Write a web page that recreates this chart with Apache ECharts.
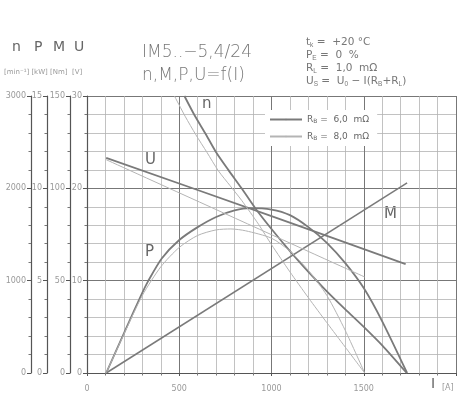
<!DOCTYPE html>
<html><head><meta charset="utf-8">
<script src="https://cdn.jsdelivr.net/npm/echarts@6/dist/echarts.min.js"></script>
<style>html,body{margin:0;padding:0;background:#fff}#c{width:465px;height:400px}</style>
</head><body><div id="c"></div>
<script>
// current I [A] vs value
const nDark  = [[528,3000],[586,2780],[640,2600],[697,2400],[766,2200],[838,2000],[912,1785],[1000,1560],[1100,1320],[1200,1095],[1300,885],[1400,690],[1500,500],[1600,300],[1733,0]];
const nLight = [[474,3000],[532,2780],[590,2580],[650,2390],[712,2190],[775,2030],[838,1870],[930,1610],[1000,1390],[1100,1095],[1200,815],[1300,545],[1400,280],[1505,0]];
const pDark  = [[104,0],[200,2.15],[300,4.35],[330,4.95],[405,6.2],[500,7.2],[600,7.9],[700,8.45],[800,8.8],[885,8.93],[1000,8.85],[1100,8.55],[1200,7.9],[1300,7.05],[1400,5.95],[1500,4.6],[1600,2.8],[1735,0]];
const pLight = [[104,0],[200,2.1],[300,4.2],[400,5.75],[500,6.8],[600,7.45],[700,7.75],[780,7.8],[860,7.7],[1000,7.3],[1100,6.6],[1200,5.55],[1300,4.2],[1400,2.3],[1505,0]];
const uDark  = [[104,23.3],[1000,17.0],[1727,11.8]];
const uLight = [[104,23.1],[1505,10.4]];
const mLine  = [[104,0],[1735,103]];
const xTickLabels = [0,500,1000,1500];
const legendNames = ['rb6','rb8'];
const legendTexts = {rb6:'R{s|B} =  6,0  mΩ', rb8:'R{s|B} =  8,0  mΩ'};

const DARK='#7a7a7a', LIGHT='#b4b4b4';
const FONT="'DejaVu Sans', sans-serif";
const chart = echarts.init(document.getElementById('c'));

function yAx(min,max,interval,offset,grid){
  return {
    type:'value', position:'left', min:min, max:max, interval:interval, offset:offset,
    axisLine:{show:true, lineStyle:{color:'#555', width:1.2}},
    axisTick:{show:true, length:4, lineStyle:{color:'#555'}},
    minorTick:{show:true, splitNumber:5, length:2.5, lineStyle:{color:'#777'}},
    axisLabel:{fontSize:8, color:'#999', margin:5, fontFamily:FONT, formatter:v=>String(v)},
    splitLine:{show:grid, lineStyle:{color:'#777', width:1}},
    minorSplitLine:{show:grid, lineStyle:{color:'#b2b2b2', width:0.8}}
  };
}

function series(name, data, yi, color, width){
  return {name:name, type:'line', data:data, yAxisIndex:yi, symbol:'none', smooth:0.25,
    lineStyle:{color:color, width:width}, itemStyle:{color:color}, z:3};
}

chart.setOption({
  animation:false,
  grid:{left:87, right:9, top:96, bottom:27, containLabel:false},
  xAxis:{type:'value', min:0, max:2000, interval:500,
    axisLine:{show:true, lineStyle:{color:'#555', width:1.2}},
    axisTick:{show:true, length:3, inside:false, lineStyle:{color:'#555'}},
    minorTick:{show:true, splitNumber:5, length:2.5, lineStyle:{color:'#777'}},
    axisLabel:{fontSize:8, color:'#999', margin:12, fontFamily:FONT,
      formatter:v=> xTickLabels.indexOf(v)>=0 ? String(v) : ''},
    splitLine:{show:true, lineStyle:{color:'#777', width:1}},
    minorSplitLine:{show:true, lineStyle:{color:'#b2b2b2', width:0.8}}
  },
  yAxis:[
    yAx(0,30,10,0,true),      // U [V]
    yAx(0,150,50,17,false),   // M [Nm]
    yAx(0,15,5,40,false),     // P [kW]
    yAx(0,3000,1000,56,false) // n [min-1]
  ],
  legend:{data:legendNames, orient:'vertical', left:265, top:110, itemWidth:32, itemHeight:2,
    itemGap:8, padding:[5,8,5,4], backgroundColor:'#fff',
    formatter:n=>legendTexts[n],
    textStyle:{fontSize:9, color:'#666', fontFamily:FONT, rich:{s:{fontSize:6, verticalAlign:'bottom', lineHeight:9, color:'#666'}}}},
  series:[
    series('rb6', nDark, 3, DARK, 1.8),
    series('rb6', pDark, 2, DARK, 1.8),
    series('rb6', uDark, 0, DARK, 1.8),
    series('rb6', mLine, 1, DARK, 1.5),
    series('rb8', nLight, 3, LIGHT, 1),
    series('rb8', pLight, 2, LIGHT, 1),
    series('rb8', uLight, 0, LIGHT, 1)
  ],
  graphic:[
    {type:'text', left:142, top:41, style:{text:'IM5..−5,4/24\nn,M,P,U=f(I)', fontSize:17, lineHeight:23, fill:'#777', fontFamily:FONT, fontWeight:300}},
    {type:'text', left:306, top:36, style:{text:'t{s|k} =  +20 °C\nP{s|E} =  0  %\nR{s|L} =  1,0  mΩ\nU{s|S} =  U{s|0} − I(R{s|B}+R{s|L})', fontSize:10.5, lineHeight:13, fill:'#777', fontFamily:FONT,
      rich:{s:{fontSize:6.5, verticalAlign:'bottom', lineHeight:9, fill:'#777'}}}},
    {type:'text', left:12, top:40, style:{text:'n', fontSize:14, fill:'#666', fontFamily:FONT}},
    {type:'text', left:34, top:40, style:{text:'P', fontSize:14, fill:'#666', fontFamily:FONT}},
    {type:'text', left:53, top:40, style:{text:'M', fontSize:14, fill:'#666', fontFamily:FONT}},
    {type:'text', left:74, top:40, style:{text:'U', fontSize:14, fill:'#666', fontFamily:FONT}},
    {type:'text', left:4, top:69, style:{text:'[min⁻¹] [kW] [Nm]  [V]', fontSize:7, fill:'#999', fontFamily:FONT}},
    {type:'text', left:202, top:97, style:{text:'n', fontSize:15, fill:'#666', fontFamily:FONT}},
    {type:'text', left:145, top:153, style:{text:'U', fontSize:15, fill:'#666', fontFamily:FONT}},
    {type:'text', left:145, top:245, style:{text:'P', fontSize:15, fill:'#666', fontFamily:FONT}},
    {type:'text', left:384, top:207, style:{text:'M', fontSize:15, fill:'#666', fontFamily:FONT}},
    {type:'text', left:431, top:377, style:{text:'I', fontSize:14, fill:'#666', fontFamily:FONT}},
    {type:'text', left:442, top:384, style:{text:'[A]', fontSize:8, fill:'#999', fontFamily:FONT}}
  ]
});
</script></body></html>
